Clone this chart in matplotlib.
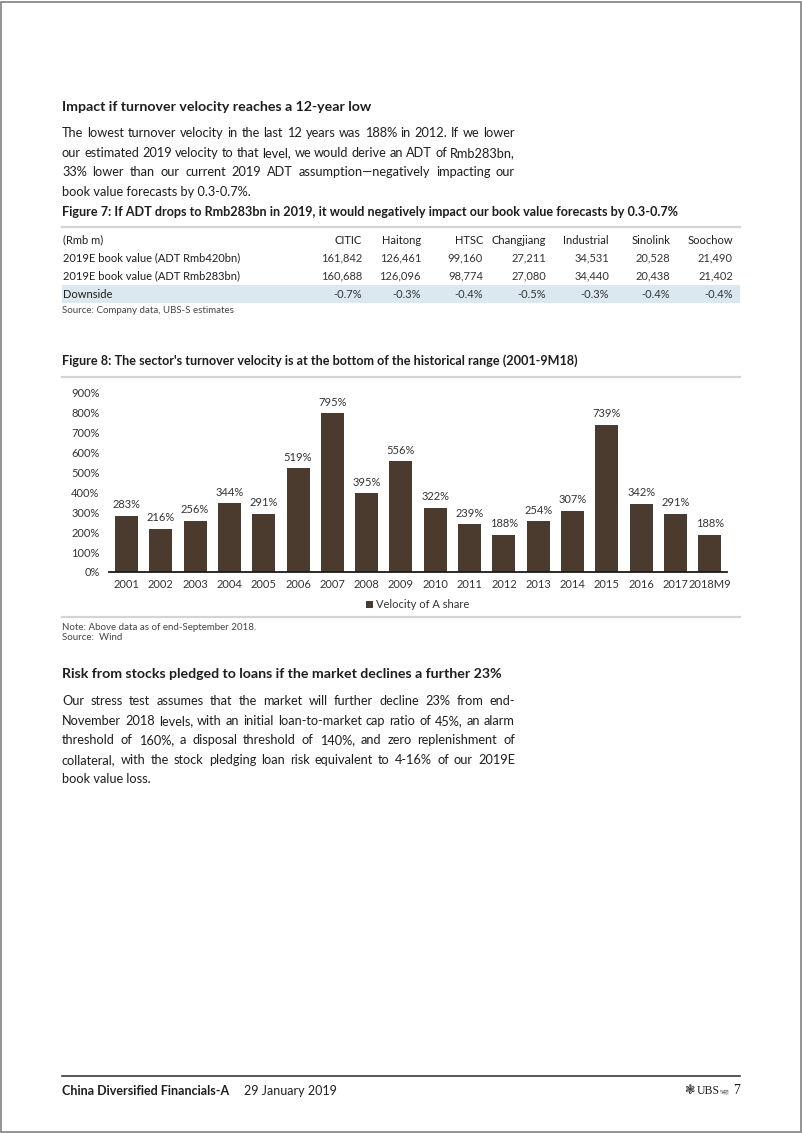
import matplotlib
matplotlib.use('Agg')
import matplotlib.pyplot as plt
from matplotlib.patches import Rectangle
from matplotlib.lines import Line2D
from matplotlib import font_manager as fm

# ---------------- data ----------------
years = ['2001', '2002', '2003', '2004', '2005', '2006', '2007', '2008', '2009',
         '2010', '2011', '2012', '2013', '2014', '2015', '2016', '2017', '2018M9']
velocity = [283, 216, 256, 344, 291, 519, 795, 395, 556,
            322, 239, 188, 254, 307, 739, 342, 291, 188]
yticks = [0, 100, 200, 300, 400, 500, 600, 700, 800, 900]

table_cols = ['CITIC', 'Haitong', 'HTSC', 'Changjiang', 'Industrial', 'Sinolink', 'Soochow']
row_names = ['2019E book value (ADT Rmb420bn)', '2019E book value (ADT Rmb283bn)', 'Downside']
bv_420 = [161842, 126461, 99160, 27211, 34531, 20528, 21490]
bv_283 = [160688, 126096, 98774, 27080, 34440, 20438, 21402]
downside = [-0.7, -0.3, -0.4, -0.5, -0.3, -0.4, -0.4]

para1 = ["The lowest turnover velocity in the last 12 years was 188% in 2012. If we lower",
         "our estimated 2019 velocity to that level, we would derive an ADT of Rmb283bn,",
         "33% lower than our current 2019 ADT assumption\u2014negatively impacting our",
         "book value forecasts by 0.3-0.7%."]
para2 = ["Our stress test assumes that the market will further decline 23% from end-",
         "November 2018 levels, with an initial loan-to-market cap ratio of 45%, an alarm",
         "threshold of 160%, a disposal threshold of 140%, and zero replenishment of",
         "collateral, with the stock pledging loan risk equivalent to 4-16% of our 2019E",
         "book value loss."]

# ---------------- fonts ----------------
avail = {f.name for f in fm.fontManager.ttflist}
BODY = 'Lato' if 'Lato' in avail else 'DejaVu Sans'
COND = 'Liberation Sans Narrow' if 'Liberation Sans Narrow' in avail else BODY
SERIF = 'Liberation Serif' if 'Liberation Serif' in avail else 'DejaVu Serif'

W, H = 802, 1133
fig = plt.figure(figsize=(W / 100, H / 100), dpi=100)
fig.patch.set_facecolor('white')
TXT = '#1e1e1e'


def T(x, y, s, size, weight='normal', ha='left', va='center', color=TXT, family=BODY):
    return fig.text(x / W, 1 - y / H, s, fontsize=size, fontweight=weight, ha=ha, va=va,
                    color=color, family=family)


def hline(x0, x1, y, color, lw):
    fig.add_artist(Line2D([x0 / W, x1 / W], [1 - y / H, 1 - y / H], color=color, lw=lw,
                          transform=fig.transFigure))


renderer = fig.canvas.get_renderer()


def justify(lines, x0, x1, y0, dy, size):
    for i, line in enumerate(lines):
        yb = y0 + i * dy + 4.2  # baseline
        if i == len(lines) - 1:
            T(x0, yb, line, size, va='baseline')
            continue
        words = line.split(' ')
        objs = [T(0, yb, w, size, va='baseline') for w in words]
        widths = [o.get_window_extent(renderer).width for o in objs]
        gap = max((x1 - x0 - sum(widths)) / (len(words) - 1), 2.0)
        x = x0
        for o, w in zip(objs, widths):
            o.set_x(x / W)
            x += w + gap


# page border
fig.add_artist(Rectangle((1 / W, 1 / H), (W - 2.5) / W, (H - 2.5) / H, fill=False,
                         edgecolor='#808080', lw=1.2, transform=fig.transFigure))

# ---------------- section 1 ----------------
T(62, 107, 'Impact if turnover velocity reaches a 12-year low', 10.2, weight='bold')
justify(para1, 62, 515, 133, 19.6, 9.2)

T(62, 212, 'Figure 7: If ADT drops to Rmb283bn in 2019, it would negatively impact our book value forecasts by 0.3-0.7%',
  9.1, weight='bold', family=COND)
hline(62, 740, 226.5, '#d4d4d4', 1.6)

# table
col_right = [362, 421, 483, 546, 609, 670, 733]
hdr_y, r1_y, r2_y, r3_y = 240, 258, 276, 294
fig.add_artist(Rectangle((62 / W, 1 - 302.5 / H), (740 - 62) / W, 17.5 / H,
                         facecolor='#dce8ef', edgecolor='none', transform=fig.transFigure, zorder=0))
TS = 8.0
T(63, hdr_y, '(Rmb m)', TS, family=COND)
for c, xr in zip(table_cols, col_right):
    T(xr, hdr_y, c, TS, ha='right', family=COND)
T(63, r1_y, row_names[0], TS, family=COND)
T(63, r2_y, row_names[1], TS, family=COND)
T(63, r3_y, row_names[2], TS, family=COND)
for v1, v2, d, xr in zip(bv_420, bv_283, downside, col_right):
    T(xr, r1_y, f'{v1:,}', TS, ha='right', family=COND, color='#333333')
    T(xr, r2_y, f'{v2:,}', TS, ha='right', family=COND, color='#333333')
    T(xr, r3_y, f'{d:.1f}%', TS, ha='right', family=COND, color='#333333')
T(62, 310, 'Source: Company data, UBS-S estimates', 7, color='#444444')

# ---------------- chart ----------------
T(62, 361, "Figure 8: The sector's turnover velocity is at the bottom of the historical range (2001-9M18)",
  9.1, weight='bold', family=COND)
hline(62, 740, 377, '#d4d4d4', 1.6)

ax_l, ax_r, ax_t, ax_b = 109.3, 727, 392.5, 572
ax = fig.add_axes([ax_l / W, 1 - ax_b / H, (ax_r - ax_l) / W, (ax_b - ax_t) / H])
x = list(range(len(years)))
bars = ax.bar(x, velocity, width=0.67, color='#4b3a2e', label='Velocity of A share', zorder=2)
ax.bar_label(bars, labels=[f'{v}%' for v in velocity], padding=4, fontsize=8, color='#333333',
             family=BODY)
ax.set_xlim(-0.5, len(years) - 0.5)
ax.set_ylim(0, 900)
ax.set_yticks(yticks)
ax.set_yticklabels([f'{v}%' for v in yticks])
ax.set_xticks(x)
ax.set_xticklabels(years)
for s in ['top', 'right', 'left']:
    ax.spines[s].set_visible(False)
ax.spines['bottom'].set_color('#1a1a1a')
ax.spines['bottom'].set_linewidth(1.3)
ax.tick_params(axis='both', length=0, labelsize=8, labelcolor='#333333')
ax.tick_params(axis='y', pad=7)
ax.tick_params(axis='x', pad=5)
for lab in ax.get_xticklabels() + ax.get_yticklabels():
    lab.set_family(BODY)
ax.patch.set_alpha(0)
leg = fig.legend(handles=[bars], labels=['Velocity of A share'], loc='center',
                 bbox_to_anchor=(418 / W, 1 - 605 / H), frameon=False,
                 handlelength=0.6, handleheight=0.6, handletextpad=0.3,
                 prop={'family': BODY, 'size': 8})
for t in leg.get_texts():
    t.set_color('#333333')
hline(62, 740, 617, '#d4d4d4', 1.6)
T(62, 627, 'Note: Above data as of end-September 2018.', 7, color='#444444')
T(62, 637, 'Source:  Wind', 7, color='#444444')

# ---------------- section 2 ----------------
T(62, 674, 'Risk from stocks pledged to loans if the market declines a further 23%', 10.2, weight='bold')
justify(para2, 62, 515, 701, 19.5, 9.2)

# ---------------- footer ----------------
hline(62, 740, 1076, '#3a3a3a', 1.2)
T(62, 1091, 'China Diversified Financials-A', 9.0, weight='bold')
T(244, 1091, '29 January 2019', 9.0, family=COND)
T(740, 1091, '7', 10, ha='right', family=SERIF)
T(720, 1092, '\u745e\u94f6', 3.5, ha='left', color='#666666',
  family=['Noto Sans CJK SC', 'DejaVu Sans'])
T(697, 1091, 'UBS', 8.5, ha='left', family=SERIF)
T(695, 1091, '\u2743', 9, ha='right', family='DejaVu Sans', color='#333333')

fig.savefig('out.png', dpi=100, facecolor='white')
